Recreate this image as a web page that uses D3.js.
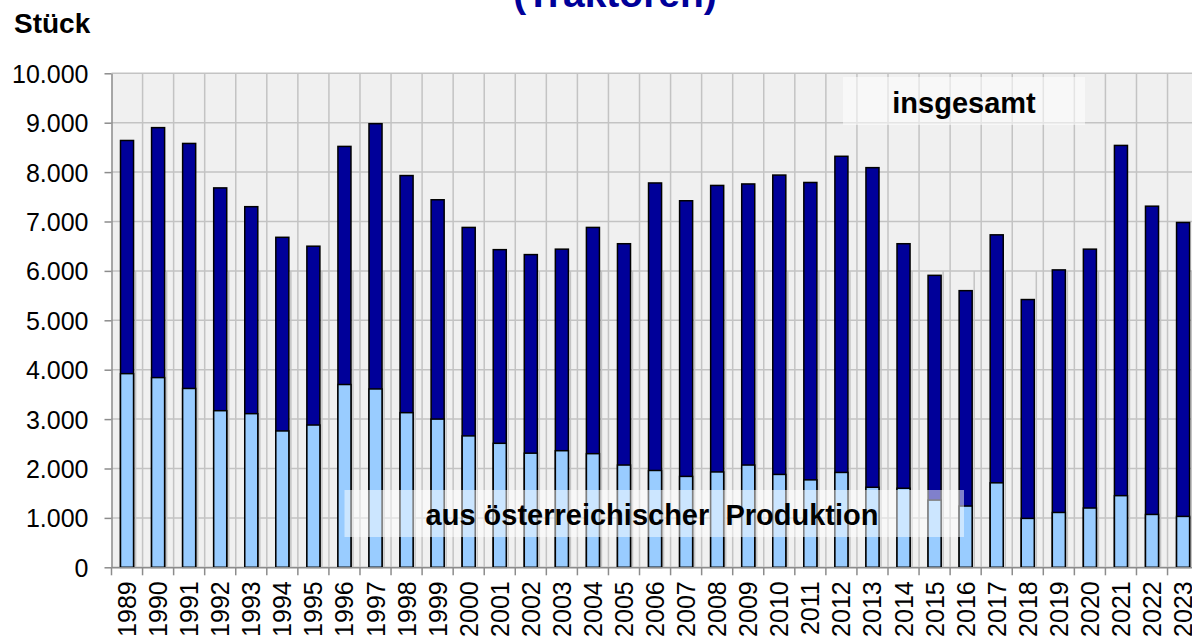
<!DOCTYPE html>
<html>
<head>
<meta charset="utf-8">
<script src="https://cdn.jsdelivr.net/npm/d3@7"></script>
<style>
    body { margin: 0; background: #fff; }
    svg { display: block; font-family: "Liberation Sans", Arial, sans-serif; }
    .axis text { font-size: 25px; fill: #000; }
    .axis line, .axis path { stroke: #8c8c8c; stroke-width: 1.5; }
</style>
</head>
<body>
<div id="chart_container"></div>
<script>
const years = ["1989", "1990", "1991", "1992", "1993", "1994", "1995", "1996", "1997", "1998",
    "1999", "2000", "2001", "2002", "2003", "2004", "2005", "2006", "2007", "2008",
    "2009", "2010", "2011", "2012", "2013", "2014", "2015", "2016", "2017", "2018",
    "2019", "2020", "2021", "2022", "2023"];

// Traktoren insgesamt (Stück)
const totals = [8640, 8900, 8580, 7680, 7300, 6680, 6500, 8520, 8980, 7930,
    7440, 6880, 6430, 6330, 6440, 6880, 6550, 7780, 7420, 7730,
    7760, 7940, 7790, 8320, 8090, 6550, 5910, 5600, 6730, 5420,
    6020, 6440, 8540, 7310, 6980];

// davon aus österreichischer Produktion (Stück)
const domestic = [3920, 3840, 3620, 3170, 3110, 2760, 2880, 3700, 3610, 3130,
    3000, 2660, 2510, 2310, 2360, 2300, 2070, 1960, 1840, 1930,
    2070, 1880, 1770, 1920, 1620, 1600, 1360, 1240, 1710, 990,
    1110, 1200, 1450, 1070, 1030];

const yTicks = [0, 1000, 2000, 3000, 4000, 5000, 6000, 7000, 8000, 9000, 10000];

let svg, xScale, yScale, plotLeft, plotRight, slot;
const W = 1192, H = 639;

const de = d3.formatLocale({decimal: ",", thousands: ".", grouping: [3], currency: ["", ""]});
const fmt = de.format(",");

function defineSVG(){
    svg = d3.select("#chart_container").append("svg")
        .attr("width", W)
        .attr("height", H);
}

function setScales(){
    plotLeft = 111.5;
    slot = 31.06;
    plotRight = plotLeft + years.length * slot;

    xScale = d3.scaleBand().domain(years).range([plotLeft, plotRight]).padding(0);
    yScale = d3.scaleLinear().domain([0, 10000]).range([567.3, 73.3]);
}

function drawGrid(){
    svg.append("rect")
        .attr("x", plotLeft)
        .attr("y", yScale(10000))
        .attr("width", plotRight - plotLeft)
        .attr("height", yScale(0) - yScale(10000))
        .attr("fill", "#f0f0f0");

    const grid = svg.append("g").attr("stroke", "#c3c3c3").attr("stroke-width", 1.5);

    grid.selectAll(".hgrid")
        .data(yTicks)
        .join("line")
        .attr("x1", plotLeft).attr("x2", plotRight)
        .attr("y1", d => yScale(d)).attr("y2", d => yScale(d));

    const bounds = years.slice(1).map(d => xScale(d)).concat([plotRight]);

    grid.selectAll(".vgrid")
        .data(bounds)
        .join("line")
        .attr("x1", d => d).attr("x2", d => d)
        .attr("y1", yScale(0)).attr("y2", yScale(10000));

    // second, slightly shifted grid of the overlaid lower chart
    grid.selectAll(".vgrid2")
        .data(bounds)
        .join("line")
        .attr("x1", d => d - 7).attr("x2", d => d - 7)
        .attr("y1", yScale(0)).attr("y2", yScale(6000));
}

function drawBars(){
    const barW = xScale.bandwidth() * 0.42;
    const off = (xScale.bandwidth() - barW) / 2;

    svg.append("g")
        .selectAll("rect")
        .data(years)
        .join("rect")
        .attr("x", d => xScale(d) + off)
        .attr("y", (d, i) => yScale(totals[i]))
        .attr("width", barW)
        .attr("height", (d, i) => yScale(0) - yScale(totals[i]))
        .attr("fill", "#000099")
        .attr("stroke", "#000")
        .attr("stroke-width", 1.5);

    svg.append("g")
        .selectAll("rect")
        .data(years)
        .join("rect")
        .attr("x", d => xScale(d) + off)
        .attr("y", (d, i) => yScale(domestic[i]))
        .attr("width", barW)
        .attr("height", (d, i) => yScale(0) - yScale(domestic[i]))
        .attr("fill", "#99ccff")
        .attr("stroke", "#000")
        .attr("stroke-width", 1.5);
}

function drawAxes(){
    const yAxis = svg.append("g")
        .attr("class", "axis")
        .attr("transform", `translate(${plotLeft},0)`)
        .call(d3.axisLeft(yScale).tickValues(yTicks).tickSize(7).tickSizeOuter(0)
            .tickPadding(16).tickFormat(fmt));
    yAxis.selectAll("text").attr("dy", "0.36em");

    const xAxis = svg.append("g")
        .attr("class", "axis")
        .attr("transform", `translate(0,${yScale(0)})`)
        .call(d3.axisBottom(xScale).tickSize(0).tickSizeOuter(0));

    xAxis.selectAll("text")
        .attr("transform", "rotate(-90)")
        .attr("x", -14)
        .attr("y", 0)
        .attr("dy", "0.36em")
        .attr("text-anchor", "end");

    // ticks between the years
    const bounds = [plotLeft].concat(years.slice(1).map(d => xScale(d)), [plotRight]);
    xAxis.selectAll(".sep")
        .data(bounds)
        .join("line")
        .attr("class", "sep")
        .attr("x1", d => d).attr("x2", d => d)
        .attr("y1", 0).attr("y2", 8);
}

function drawLabels(){
    // legend boxes lie over the bars
    svg.append("rect")
        .attr("x", 843).attr("y", 77)
        .attr("width", 242).attr("height", 48)
        .attr("fill", "#fff").attr("fill-opacity", 0.55);

    svg.append("text")
        .attr("x", 964).attr("y", 113)
        .attr("text-anchor", "middle")
        .style("font-size", "29px")
        .style("font-weight", "bold")
        .text("insgesamt");

    svg.append("rect")
        .attr("x", 344.5).attr("y", 490)
        .attr("width", 619.5).attr("height", 47)
        .attr("fill", "#fff").attr("fill-opacity", 0.5);

    svg.append("text")
        .attr("x", 652).attr("y", 525)
        .attr("text-anchor", "middle")
        .style("font-size", "29px")
        .style("font-weight", "bold")
        .style("white-space", "pre")
        .text("aus österreichischer  Produktion");

    svg.append("text")
        .attr("x", 14).attr("y", 33)
        .style("font-size", "28px")
        .style("font-weight", "bold")
        .text("Stück");

    // title is cut off at the top of the picture
    svg.append("text")
        .attr("x", 615).attr("y", 7)
        .attr("text-anchor", "middle")
        .style("font-size", "39px")
        .style("font-weight", "bold")
        .attr("fill", "#000099")
        .text("(Traktoren)");
}

defineSVG();
setScales();
drawGrid();
drawBars();
drawAxes();
drawLabels();
</script>
</body>
</html>
